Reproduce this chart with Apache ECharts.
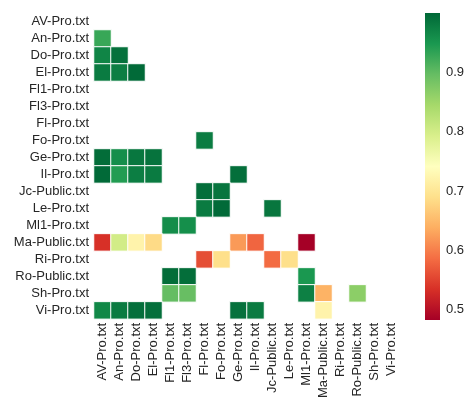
<!DOCTYPE html>
<html>
<head>
<meta charset="utf-8">
<script src="https://cdn.jsdelivr.net/npm/echarts@6/dist/echarts.min.js"></script>
<style>
  html, body { margin: 0; padding: 0; background: #fff; }
  #chart { width: 467px; height: 401px; }
</style>
</head>
<body>
<div id="chart"></div>
<script>
// file names (same order on both axes)
const files = ['AV-Pro.txt', 'An-Pro.txt', 'Do-Pro.txt', 'El-Pro.txt', 'Fl1-Pro.txt', 'Fl3-Pro.txt',
  'Fl-Pro.txt', 'Fo-Pro.txt', 'Ge-Pro.txt', 'Il-Pro.txt', 'Jc-Public.txt', 'Le-Pro.txt',
  'Ml1-Pro.txt', 'Ma-Public.txt', 'Ri-Pro.txt', 'Ro-Public.txt', 'Sh-Pro.txt', 'Vi-Pro.txt']

// [row, column, value] - only lower triangle cells that are shown
const cells = [
  [1, 0, 0.928],
  [2, 0, 0.969], [2, 1, 0.990],
  [3, 0, 0.980], [3, 1, 0.976], [3, 2, 0.998],
  [7, 6, 0.978],
  [8, 0, 0.995], [8, 1, 0.959], [8, 2, 0.984], [8, 3, 0.988],
  [9, 0, 0.998], [9, 1, 0.943], [9, 2, 0.976], [9, 3, 0.980], [9, 8, 0.992],
  [10, 6, 0.994], [10, 7, 0.986],
  [11, 6, 0.980], [11, 7, 0.998], [11, 10, 0.985],
  [12, 4, 0.960], [12, 5, 0.958],
  [13, 0, 0.535], [13, 1, 0.800], [13, 2, 0.722], [13, 3, 0.685], [13, 8, 0.622], [13, 9, 0.580], [13, 12, 0.483],
  [14, 6, 0.560], [14, 7, 0.690], [14, 10, 0.585], [14, 11, 0.690],
  [15, 4, 0.995], [15, 5, 0.993], [15, 12, 0.948],
  [16, 4, 0.897], [16, 5, 0.895], [16, 12, 0.974], [16, 13, 0.643], [16, 15, 0.866],
  [17, 0, 0.966], [17, 1, 0.980], [17, 2, 0.992], [17, 3, 0.992], [17, 8, 0.990], [17, 9, 0.980], [17, 13, 0.722]
]

const vMin = 0.483
const vMax = 1.0
const barTicks = [0.5, 0.6, 0.7, 0.8, 0.9]
const rdylgn = ['#a50026', '#d73027', '#f46d43', '#fdae61', '#fee08b', '#ffffbf',
  '#d9ef8b', '#a6d96a', '#66bd63', '#1a9850', '#006837']

const font = 'Liberation Sans, Arial, sans-serif'
const textColor = '#262626'

// colorbar gradient, top = max (green), bottom = min (red)
const barStops = rdylgn.map((c, i) => ({ offset: 1 - i / (rdylgn.length - 1), color: c }))

const chart = echarts.init(document.getElementById('chart'))
chart.setOption({
  animation: false,
  grid: [
    { left: 94, top: 13, width: 306, height: 306 },
    { left: 425, top: 13, width: 15, height: 307 }  // colorbar axis
  ],
  xAxis: [
    {
      type: 'category', data: files, gridIndex: 0,
      axisLine: { show: false }, axisTick: { show: false }, splitLine: { show: false },
      axisLabel: { rotate: 90, interval: 0, margin: 4, color: textColor, fontSize: 13, fontFamily: font }
    },
    { type: 'value', gridIndex: 1, show: false }
  ],
  yAxis: [
    {
      type: 'category', data: files, inverse: true, gridIndex: 0,
      axisLine: { show: false }, axisTick: { show: false }, splitLine: { show: false },
      axisLabel: { interval: 0, margin: 5, color: textColor, fontSize: 13, fontFamily: font }
    },
    {
      type: 'value', gridIndex: 1, position: 'right', min: vMin, max: vMax,
      axisLine: { show: false }, splitLine: { show: false },
      axisTick: { show: false },
      axisLabel: { customValues: barTicks, margin: 6, color: textColor, fontSize: 13, fontFamily: font,
        formatter: v => v.toFixed(1) }
    }
  ],
  visualMap: {
    type: 'continuous', min: vMin, max: vMax, show: false, seriesIndex: 0,
    inRange: { color: rdylgn }
  },
  graphic: [{
    type: 'rect', left: 425, top: 13, silent: true,
    shape: { width: 15, height: 307 },
    style: { fill: new echarts.graphic.LinearGradient(0, 0, 0, 1, barStops) }
  }],
  series: [{
    type: 'heatmap',
    xAxisIndex: 0, yAxisIndex: 0,
    data: cells.map(c => [c[1], c[0], c[2]]),
    itemStyle: { borderColor: '#fff', borderWidth: 1 },
    emphasis: { disabled: true }
  }]
})
</script>
</body>
</html>
